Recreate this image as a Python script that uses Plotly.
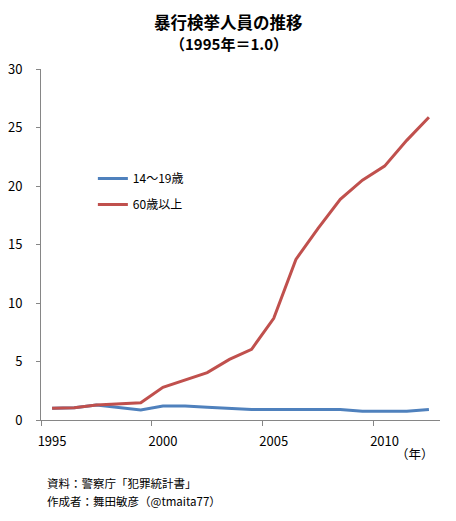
import plotly.graph_objects as go

# 暴行検挙人員の推移 (1995年 = 1.0)
years = list(range(1995, 2013))
teen = [1.0, 1.05, 1.28, 1.08, 0.85, 1.2, 1.2, 1.08, 1.0, 0.9,
        0.9, 0.9, 0.9, 0.9, 0.74, 0.74, 0.74, 0.9]
elderly = [1.0, 1.05, 1.28, 1.37, 1.48, 2.8, 3.42, 4.05, 5.18, 6.04,
           8.69, 13.73, 16.38, 18.86, 20.5, 21.7, 23.9, 25.87]
series_names = ["14～19歳", "60歳以上"]
x_ticks = [1995, 2000, 2005, 2010]
y_ticks = [0, 5, 10, 15, 20, 25, 30]

FONT = "Noto Sans CJK JP, Open Sans, sans-serif"
AXIS_COLOR = "#868686"

fig = go.Figure()
fig.add_trace(go.Scatter(x=years, y=teen, name=series_names[0], mode="lines",
                         line=dict(color="#4F81BD", width=3), legendgroup="a"))
fig.add_trace(go.Scatter(x=years, y=elderly, name=series_names[1], mode="lines",
                         line=dict(color="#C0504D", width=3), legendgroup="b"))

# page body has an 8px margin, so the figure is a bit smaller than the window
fig.update_layout(
    width=448, height=513,
    margin=dict(l=33, r=16, t=61, b=101),
    paper_bgcolor="white", plot_bgcolor="white",
    font=dict(family=FONT, size=12, color="black"),
    showlegend=True,
    legend=dict(x=0.13, y=0.729, xanchor="left", yanchor="top",
                bgcolor="rgba(0,0,0,0)", tracegroupgap=7,
                font=dict(size=12)),
)

fig.update_xaxes(
    range=[1994.5, 2012.5], tickvals=x_ticks, ticktext=[str(v) for v in x_ticks],
    ticks="", showgrid=False, zeroline=False, automargin=False,
    showline=True, linecolor=AXIS_COLOR, linewidth=1,
    tickfont=dict(size=13), ticklabelstandoff=9,
    minor=dict(tick0=1994.5, dtick=5, ticks="outside", ticklen=5,
               tickcolor=AXIS_COLOR, showgrid=False),
)
fig.update_yaxes(
    range=[0, 30], tickvals=y_ticks, ticks="outside", ticklen=4,
    tickcolor=AXIS_COLOR, showgrid=False, zeroline=False, automargin=False,
    showline=True, linecolor=AXIS_COLOR, linewidth=1,
    tickfont=dict(size=13), ticklabelstandoff=11,
)

# title (two lines)
fig.add_annotation(text="<b>暴行検挙人員の推移</b>", xref="paper", yref="paper",
                   x=0.47, y=1, yshift=47, xanchor="center", yanchor="middle",
                   showarrow=False, font=dict(size=16.5))
fig.add_annotation(text="<b>（1995年＝1.0）</b>", xref="paper", yref="paper",
                   x=0.47, y=1, yshift=26, xanchor="center", yanchor="middle",
                   showarrow=False, font=dict(size=15))

# axis unit and source notes
fig.add_annotation(text="（年）", xref="paper", yref="paper", x=1, y=0,
                   xshift=-4, yshift=-33, xanchor="right", yanchor="middle",
                   showarrow=False, font=dict(size=12.5))
fig.add_annotation(text="資料：警察庁「犯罪統計書」", xref="paper", yref="paper",
                   x=0, y=0, xshift=4, yshift=-63, xanchor="left", yanchor="middle",
                   showarrow=False, font=dict(size=11.5))
fig.add_annotation(text="作成者：舞田敏彦（@tmaita77）", xref="paper", yref="paper",
                   x=0, y=0, xshift=4, yshift=-81, xanchor="left", yanchor="middle",
                   showarrow=False, font=dict(size=11.5))

fig.write_html("out.html")
